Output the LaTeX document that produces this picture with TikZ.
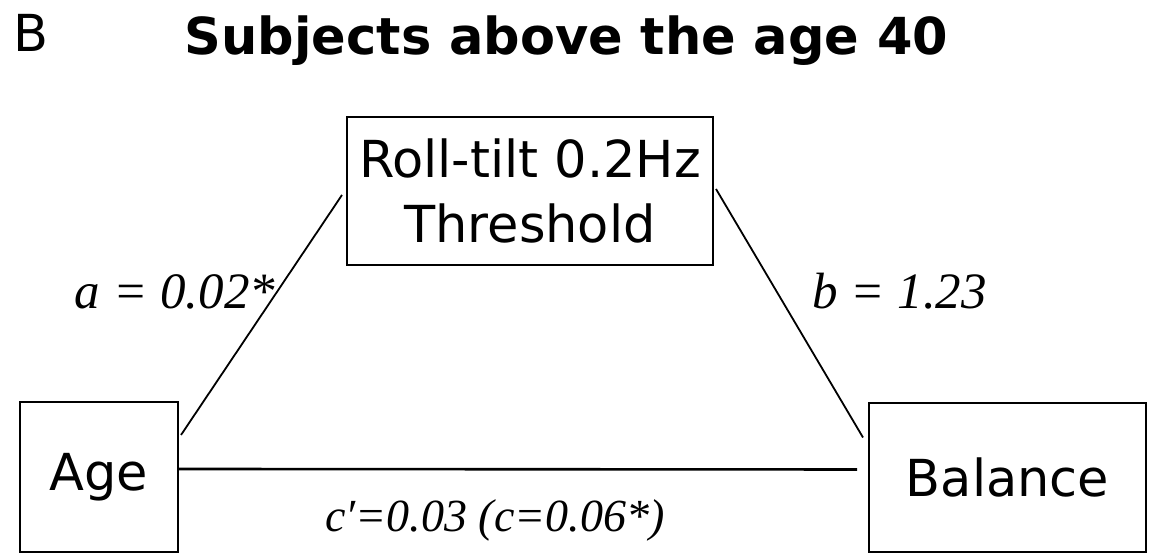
\documentclass[tikz,border=0pt]{standalone}
\usepackage{fontspec}
\setmainfont{DejaVu Sans}
\newfontfamily\coeffont{Liberation Serif}
\usetikzlibrary{positioning}

\begin{document}
\begin{tikzpicture}[x=0.5pt, y=0.5pt,
  box/.style={draw, line width=1pt, inner sep=0pt, align=center,
    font=\fontsize{25.5}{32.5}\selectfont},
  link/.style={line width=0.9pt},
  coef/.style={anchor=base, font=\coeffont\itshape\fontsize{25.5}{28}\selectfont}
]
\useasboundingbox (0,0) rectangle (1153,555);
\node[anchor=base west, inner sep=0pt, font=\fontsize{25.5}{30}\selectfont] (panel) at (13,503) {B};
\node[anchor=base, inner sep=0pt, font=\bfseries\fontsize{25.5}{30}\selectfont] (title) at (566.5,500) {Subjects above the age 40};
\node[box, minimum width=183pt, minimum height=74pt] (roll) at (530,364) {Roll-tilt 0.2Hz\\Threshold};
\node[box, minimum width=79pt, minimum height=75pt] (age) at (99,78) {Age};
\node[box, minimum width=138.5pt, minimum height=74.5pt] (bal) at (1007.5,77.5) {Balance};
\draw[link] ([xshift=1pt,yshift=21pt]age.east) -- ([xshift=-2pt,yshift=-2pt]roll.west);
\draw[link] ([xshift=1pt,yshift=1pt]roll.east) -- ([xshift=-2.5pt,yshift=20pt]bal.west);
\draw[link, line width=1.3pt] ([yshift=4pt]age.east) -- ([xshift=-5.5pt,yshift=4pt]bal.west);
\node[coef] (acoef) at (175,246) {a~=~0.02*};
\node[coef] (bcoef) at (899.5,246) {b~=~1.23};
\node[coef, font=\coeffont\itshape\fontsize{23}{28}\selectfont] (ccoef) at (495,23) {c′=0.03 (c=0.06*)};
\end{tikzpicture}
\end{document}
